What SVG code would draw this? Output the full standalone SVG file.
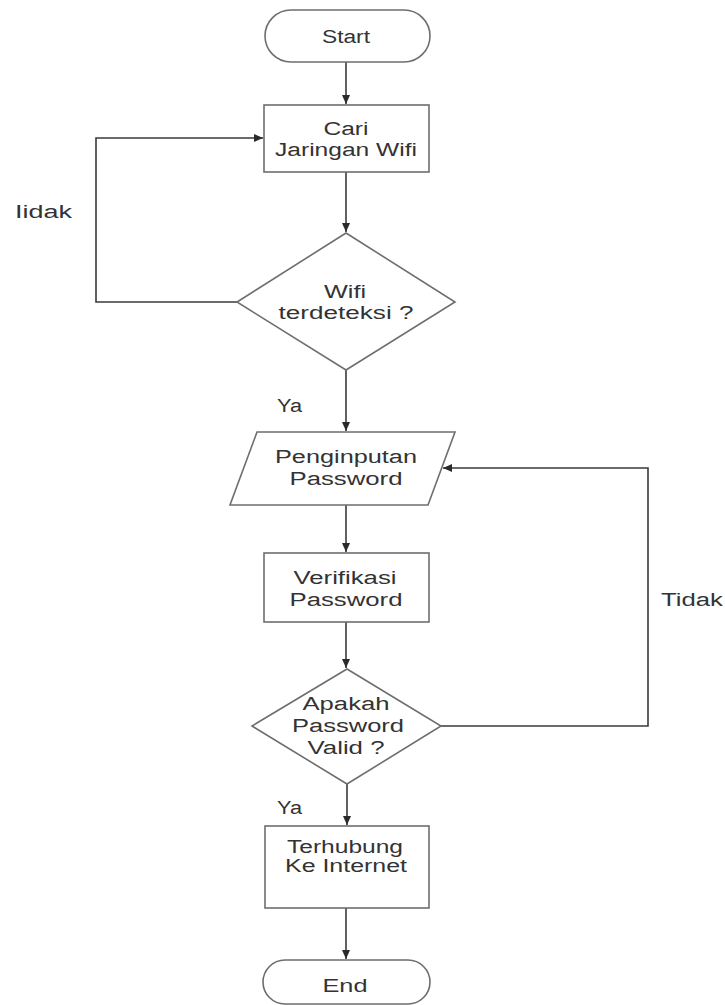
<svg xmlns="http://www.w3.org/2000/svg" width="725" height="1005" viewBox="0 0 725 1005">
<style>
.shape{fill:#fff;stroke:#6e6e6e;stroke-width:1.6}
.conn{fill:none;stroke:#3a3a3a;stroke-width:1.6}
text{font-family:"Liberation Sans",Arial,sans-serif;font-size:18px;fill:#333}
.c{text-anchor:middle}
</style>
<defs>
<marker id="arr" markerWidth="10" markerHeight="10" refX="9" refY="5" orient="auto" markerUnits="userSpaceOnUse">
<path d="M0,1 L9,5 L0,9 Z" fill="#2a2a2a"/>
</marker>
</defs>
<rect width="725" height="1005" fill="#fff"/>
<g id="connectors">
<path class="conn" d="M346,62 V104" marker-end="url(#arr)"/>
<path class="conn" d="M346,172 V232" marker-end="url(#arr)"/>
<path class="conn" d="M237,302 H96 V138 H263" marker-end="url(#arr)"/>
<path class="conn" d="M346,370 V431" marker-end="url(#arr)"/>
<path class="conn" d="M346,505 V552" marker-end="url(#arr)"/>
<path class="conn" d="M346,622 V668" marker-end="url(#arr)"/>
<path class="conn" d="M441,726 H648 V468 H443" marker-end="url(#arr)"/>
<path class="conn" d="M347,784 V825" marker-end="url(#arr)"/>
<path class="conn" d="M346,908 V959" marker-end="url(#arr)"/>
</g>
<g id="start">
<rect class="shape" x="265" y="10" width="165" height="52" rx="26"/>
<text class="c" x="346" y="43" textLength="48" lengthAdjust="spacingAndGlyphs">Start</text>
</g>
<g id="cari">
<rect class="shape" x="264" y="105" width="165" height="67"/>
<text class="c" x="346" y="135" textLength="45" lengthAdjust="spacingAndGlyphs">Cari</text>
<text class="c" x="346" y="156" textLength="142" lengthAdjust="spacingAndGlyphs">Jaringan Wifi</text>
</g>
<g id="wifi-check">
<polygon class="shape" points="346,233 455,302 346,370 237,302"/>
<text class="c" x="345" y="298" textLength="42" lengthAdjust="spacingAndGlyphs">Wifi</text>
<text class="c" x="346" y="319" textLength="135" lengthAdjust="spacingAndGlyphs">terdeteksi ?</text>
</g>
<g id="input">
<polygon class="shape" points="257,432 455,432 428,505 230,505"/>
<text class="c" x="346" y="463" textLength="142" lengthAdjust="spacingAndGlyphs">Penginputan</text>
<text class="c" x="346" y="485" textLength="113" lengthAdjust="spacingAndGlyphs">Password</text>
</g>
<g id="verifikasi">
<rect class="shape" x="264" y="553" width="165" height="69"/>
<text class="c" x="345" y="584" textLength="103" lengthAdjust="spacingAndGlyphs">Verifikasi</text>
<text class="c" x="346" y="606" textLength="113" lengthAdjust="spacingAndGlyphs">Password</text>
</g>
<g id="valid-check">
<polygon class="shape" points="347,669 441,726 347,784 252,726"/>
<text class="c" x="346" y="710" textLength="87" lengthAdjust="spacingAndGlyphs">Apakah</text>
<text class="c" x="348" y="732" textLength="112" lengthAdjust="spacingAndGlyphs">Password</text>
<text class="c" x="346" y="754" textLength="77" lengthAdjust="spacingAndGlyphs">Valid ?</text>
</g>
<g id="terhubung">
<rect class="shape" x="265" y="826" width="164" height="82"/>
<text class="c" x="345" y="853" textLength="116" lengthAdjust="spacingAndGlyphs">Terhubung</text>
<text class="c" x="346" y="872" textLength="122" lengthAdjust="spacingAndGlyphs">Ke Internet</text>
</g>
<g id="end">
<rect class="shape" x="263" y="960" width="167" height="44" rx="22"/>
<text class="c" x="345" y="992" textLength="45" lengthAdjust="spacingAndGlyphs">End</text>
</g>
<g id="labels">
<text x="277" y="412" textLength="25" lengthAdjust="spacingAndGlyphs">Ya</text>
<text x="277" y="814" textLength="25" lengthAdjust="spacingAndGlyphs">Ya</text>
<text x="15" y="218" textLength="57" lengthAdjust="spacingAndGlyphs">Iidak</text>
<text x="661" y="606" textLength="62" lengthAdjust="spacingAndGlyphs">Tidak</text>
</g>
</svg>
